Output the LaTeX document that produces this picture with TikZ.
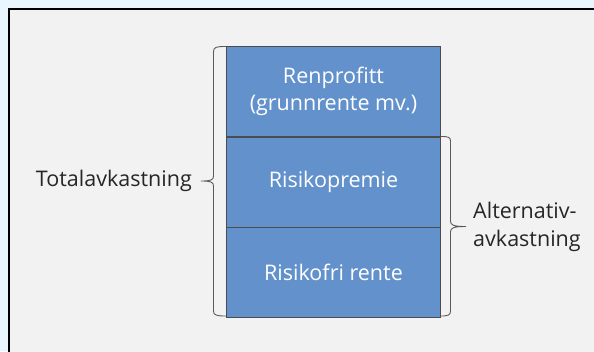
\documentclass[tikz,border=0pt]{standalone}
\usepackage{fontspec}
\setmainfont{Open Sans}
\usepackage{tikz}
\usetikzlibrary{positioning}
\definecolor{blokkblaa}{HTML}{6291CC}
\definecolor{flate}{HTML}{F2F2F2}
\definecolor{utenfor}{HTML}{EAF6FE}
\definecolor{skrift}{HTML}{262626}

\begin{document}
\begin{tikzpicture}[x=1bp,y=-1bp,
    blokk/.style={draw=black!70,fill=blokkblaa,text=white,
      minimum width=214bp,minimum height=90bp,inner sep=0pt,
      align=center,font=\fontsize{21.6}{27}\selectfont},
    merke/.style={text=skrift,align=left,inner sep=0pt,
      font=\fontsize{21.6}{28}\selectfont},
    klamme/.style={draw=black!65,line width=0.9bp}]
    \useasboundingbox (0,0) rectangle (594,351);
    \clip (0,0) rectangle (594,351);
    \fill[utenfor] (0,0) rectangle (594,351);
    \draw[line width=2bp,fill=flate] (9,9) rectangle (610,370);
    % blokkene
    \node[blokk] (renprofitt) at (333.5,91.5)
      {Renprofitt\\(grunnrente mv.)};
    \node[blokk,below=0pt of renprofitt] (risikopremie) {Risikopremie};
    \node[blokk,below=0pt of risikopremie] (risikofri) {Risikofri rente};
    % klammene
    \draw[klamme] (226,46.5) .. controls (216,46.5) and (213.5,47) .. (213.5,52)
      -- (213.5,176) .. controls (213.5,180) and (211,181) .. (201,181)
      .. controls (211,181) and (213.5,182) .. (213.5,186)
      -- (213.5,311) .. controls (213.5,315) and (216,316) .. (226,316);
    \draw[klamme] (441,136.5) .. controls (448,136.5) and (450.5,137) .. (450.5,141)
      -- (450.5,221) .. controls (450.5,225) and (453,226.5) .. (466,226.5)
      .. controls (453,226.5) and (450.5,228) .. (450.5,232)
      -- (450.5,311) .. controls (450.5,315) and (448,316) .. (441,316);
    % merkene
    \node[merke,anchor=east] (total) at (192,181) {Totalavkastning};
    \node[merke,anchor=west] (alternativ) at (473,227)
      {Alternativ-\\avkastning};
  \end{tikzpicture}
\end{document}
